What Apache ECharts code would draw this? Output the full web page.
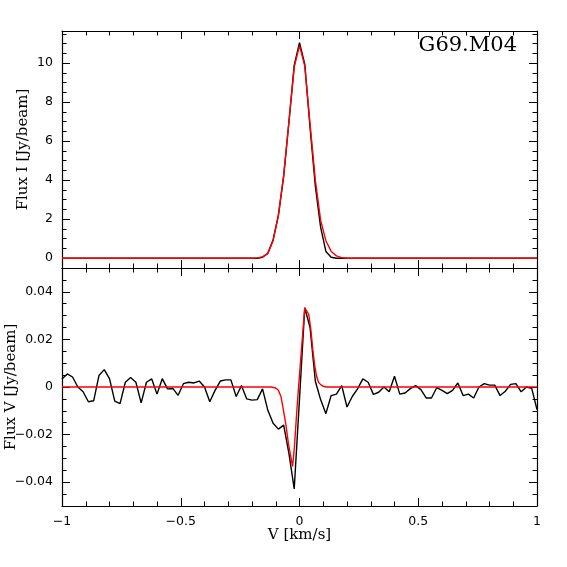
<!DOCTYPE html>
<html>
<head>
<meta charset="utf-8">
<script src="https://cdn.jsdelivr.net/npm/echarts@6/dist/echarts.min.js"></script>
<style>
    html, body { margin: 0; padding: 0; background: #ffffff; }
    #chart { width: 567px; height: 567px; }
</style>
</head>
<body>
<div id="chart"></div>
<script>
// Spectrum of G69.M04: Stokes I (top) and Stokes V (bottom)

// Channel grid: 91 channels, 1/45 km/s apart, from -1 to 1 km/s
const channelWidth = 1 / 45;
const velocity = [];
for (let i = 0; i <= 90; i++) {
    velocity.push(+(-1 + i * channelWidth).toFixed(4));
}

// Observed Stokes I per channel [Jy/beam]
const fluxI = [
    0, 0, 0, 0, 0, 0, 0, 0, 0, 0,
    0, 0, 0, 0, 0, 0, 0, 0, 0, 0,
    0, 0, 0, 0, 0, 0, 0, 0, 0, 0,
    0, 0, 0, 0, 0, 0, 0, 0,
    0.05, 0.25, 0.95, 2.2, 4.2, 7.0, 9.9,
    11.05,
    9.95, 6.7, 3.7, 1.6, 0.35, 0.05, 0,
    0, 0, 0, 0, 0, 0, 0, 0,
    0, 0, 0, 0, 0, 0, 0, 0, 0, 0,
    0, 0, 0, 0, 0, 0, 0, 0, 0, 0,
    0, 0, 0, 0, 0, 0, 0, 0, 0, 0
];

// Gaussian fit to Stokes I per channel [Jy/beam]
const fitI = [
    0, 0, 0, 0, 0, 0, 0, 0, 0, 0,
    0, 0, 0, 0, 0, 0, 0, 0, 0, 0,
    0, 0, 0, 0, 0, 0, 0, 0, 0, 0,
    0, 0, 0, 0, 0, 0, 0, 0.02,
    0.07, 0.25, 0.9, 2.2, 4.25, 7.0, 9.8,
    10.9,
    9.85, 6.9, 4.0, 1.95, 0.9, 0.35, 0.12,
    0.03, 0, 0, 0, 0, 0, 0, 0,
    0, 0, 0, 0, 0, 0, 0, 0, 0, 0,
    0, 0, 0, 0, 0, 0, 0, 0, 0, 0,
    0, 0, 0, 0, 0, 0, 0, 0, 0, 0
];

// Observed Stokes V per channel [Jy/beam]
const fluxV = [
    0.0034, 0.0055, 0.0042, 0.0, -0.002, -0.0062, -0.0058, 0.0048, 0.0073, 0.0035,
    -0.0059, -0.007, 0.002, 0.004, 0.002, -0.0067, 0.002, 0.0034, -0.003, 0.0035,
    -0.0008, -0.0006, -0.0035, 0.0014, 0.002, 0.0017, 0.0025, 0.0, -0.0062, -0.0014,
    0.0025, 0.003, 0.003, -0.004, 0.0006, -0.005, -0.0055, -0.0053, -0.0008, -0.0098,
    -0.0152, -0.0177, -0.016, -0.028, -0.0428,
    -0.005, 0.0333, 0.025, 0.0024, -0.0053, -0.0112, -0.0036, -0.003, 0.0006, -0.0084,
    -0.004, -0.0008, 0.0034, 0.002, -0.0031, -0.0022, 0, -0.002, 0.0045, -0.003,
    -0.0025, -0.0007, 0.0006, -0.0011, -0.0046, -0.0046, -0.0003, -0.0014, -0.0028, -0.0014,
    0.0017, -0.0036, -0.003, -0.0046, 0, 0.0014, 0.0008, 0.0008, -0.0036, -0.0018,
    0.0011, 0.0014, -0.002, 0, -0.0006, -0.0095
];

// Zeeman fit to Stokes V (sampled finer than the channels)
const fitVVelocity = [-1, -0.12, -0.1, -0.089, -0.078, -0.068, -0.057, -0.047, -0.04, -0.029,
    -0.022, -0.012, -0.003, 0.01, 0.022, 0.03, 0.039, 0.048, 0.056, 0.064,
    0.072, 0.08, 0.089, 0.1, 0.115, 1];
const fitV = [0, 0, -0.0004, -0.0014, -0.004, -0.0095, -0.016, -0.0236, -0.0275, -0.0334,
    -0.026, -0.011, 0.0013, 0.018, 0.0333, 0.0325, 0.0305, 0.024, 0.0157, 0.009,
    0.0045, 0.002, 0.001, 0.0003, 0, 0];

// Tick labels
const ticksI = [0, 2, 4, 6, 8, 10];
const ticksV = [-0.04, -0.02, 0, 0.02, 0.04];
const ticksX = [-1, -0.5, 0, 0.5, 1];

const LABEL_FONT = 'DejaVu Sans';
const NAME_FONT = 'DejaVu Serif';
const INK = '#000000';

function minus(v) {
    return String(v).replace('-', '\u2212');
}

function pairs(xs, ys) {
    return xs.map((x, i) => [x, ys[i]]);
}

// Velocity axis with inside ticks, on top or bottom of a panel
function velocityAxis(gridIndex, position, showLabels) {
    return {
        type: 'value',
        gridIndex: gridIndex,
        position: position,
        min: -1,
        max: 1,
        interval: 0.5,
        axisLine: { show: true, onZero: false, lineStyle: { color: INK, width: 1.2 } },
        axisTick: { show: true, inside: true, length: 8, lineStyle: { color: INK, width: 1 } },
        minorTick: { show: true, splitNumber: 5, length: 4.5, lineStyle: { color: INK, width: 1 } },
        splitLine: { show: false },
        axisLabel: {
            show: showLabels,
            customValues: ticksX,
            margin: 9,
            color: INK,
            fontFamily: LABEL_FONT,
            fontSize: 12.5,
            formatter: minus
        },
        name: showLabels ? 'V [km/s]' : '',
        nameLocation: 'middle',
        nameGap: 22,
        nameMoveOverlap: false,
        nameTextStyle: { color: INK, fontFamily: NAME_FONT, fontSize: 15 }
    };
}

// Short ticks every step on the flux axis
function minorAxis(gridIndex, position, min, max, step) {
    return {
        type: 'value',
        gridIndex: gridIndex,
        position: position,
        min: min,
        max: max,
        interval: step,
        axisLine: { show: true, onZero: false, lineStyle: { color: INK, width: 1.2 } },
        axisTick: { show: true, inside: true, length: 4.5, lineStyle: { color: INK, width: 1 } },
        axisLabel: { show: false },
        splitLine: { show: false }
    };
}

// Long ticks + labels on the flux axis
function majorAxis(gridIndex, position, min, max, ticks, name, nameGap) {
    const left = position === 'left';
    return {
        type: 'value',
        gridIndex: gridIndex,
        position: position,
        min: min,
        max: max,
        axisLine: { show: false, onZero: false },
        axisTick: { show: true, inside: true, length: 8, customValues: ticks, lineStyle: { color: INK, width: 1 } },
        axisLabel: {
            show: left,
            customValues: ticks,
            margin: 9,
            color: INK,
            fontFamily: LABEL_FONT,
            fontSize: 12.5,
            formatter: minus
        },
        splitLine: { show: false },
        name: left ? name : '',
        nameLocation: 'middle',
        nameRotate: 90,
        nameGap: nameGap,
        nameMoveOverlap: false,
        nameTextStyle: { color: INK, fontFamily: NAME_FONT, fontSize: 15 }
    };
}

function lineSeries(xi, yi, data, color) {
    return {
        type: 'line',
        xAxisIndex: xi,
        yAxisIndex: yi,
        data: data,
        showSymbol: false,
        symbol: 'none',
        clip: true,
        lineStyle: { color: color, width: 1.4 },
        z: color === INK ? 2 : 3
    };
}

const chart = echarts.init(document.getElementById('chart'));

const rangeI = [-0.5, 11.65];
const rangeV = [-0.05, 0.05];

chart.setOption({
    animation: false,
    backgroundColor: '#ffffff',
    grid: [
        { left: 62, top: 31, width: 475, height: 237, containLabel: false, outerBoundsMode: 'none' },
        { left: 62, top: 268, width: 475, height: 238, containLabel: false, outerBoundsMode: 'none' }
    ],
    xAxis: [
        velocityAxis(0, 'bottom', false),
        velocityAxis(0, 'top', false),
        velocityAxis(1, 'bottom', true),
        velocityAxis(1, 'top', false)
    ],
    yAxis: [
        minorAxis(0, 'left', rangeI[0], rangeI[1], 0.5),
        majorAxis(0, 'left', rangeI[0], rangeI[1], ticksI, 'Flux I [Jy/beam]', 31),
        minorAxis(0, 'right', rangeI[0], rangeI[1], 0.5),
        majorAxis(0, 'right', rangeI[0], rangeI[1], ticksI, '', 0),
        minorAxis(1, 'left', rangeV[0], rangeV[1], 0.005),
        majorAxis(1, 'left', rangeV[0], rangeV[1], ticksV, 'Flux V [Jy/beam]', 43),
        minorAxis(1, 'right', rangeV[0], rangeV[1], 0.005),
        majorAxis(1, 'right', rangeV[0], rangeV[1], ticksV, '', 0)
    ],
    graphic: [{
        type: 'text',
        right: 50,
        top: 35,
        style: { text: 'G69.M04', fill: INK, font: '21px "DejaVu Serif"' }
    }],
    series: [
        lineSeries(0, 0, pairs(velocity, fluxI), INK),
        lineSeries(0, 0, pairs(velocity, fitI), '#ff0000'),
        lineSeries(2, 4, pairs(velocity, fluxV), INK),
        lineSeries(2, 4, pairs(fitVVelocity, fitV), '#ff0000')
    ]
});
</script>
</body>
</html>
